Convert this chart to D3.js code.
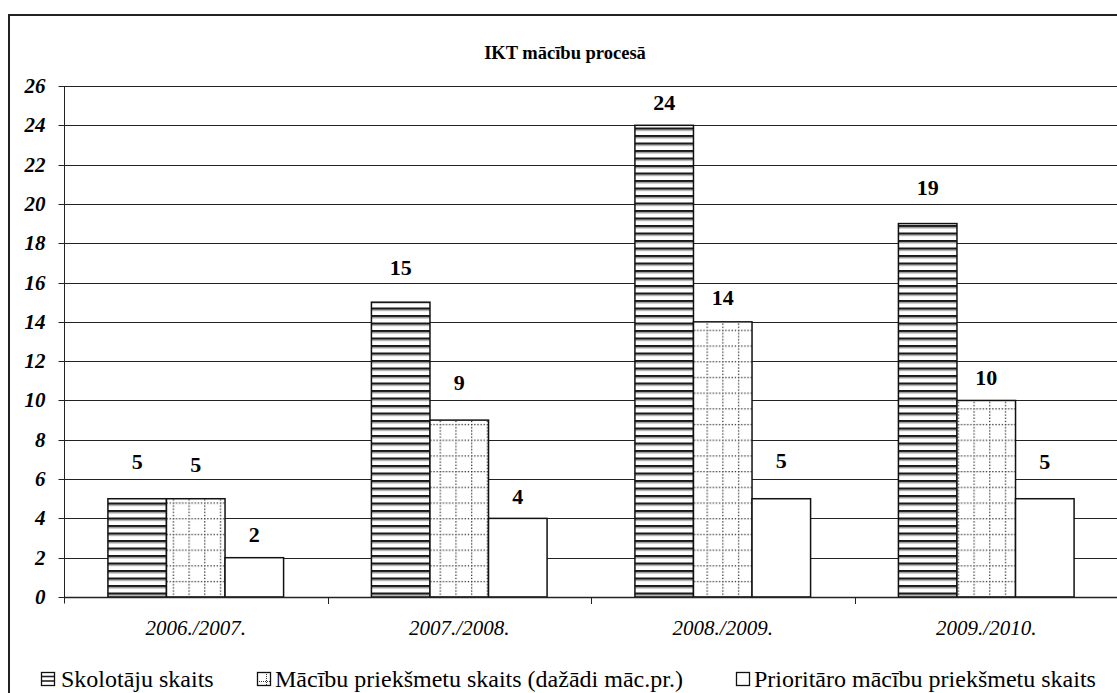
<!DOCTYPE html>
<html><head><meta charset="utf-8">
<script src="https://cdn.jsdelivr.net/npm/d3@7"></script>
<style>body{margin:0;background:#fff}svg{display:block}</style>
</head><body><svg id="c" width="1117" height="693"></svg>
<script>
const title = "IKT mācību procesā";
const categories = ["2006./2007.", "2007./2008.", "2008./2009.", "2009./2010."];
const seriesNames = ["Skolotāju skaits", "Mācību priekšmetu skaits (dažādi māc.pr.)", "Prioritāro mācību priekšmetu skaits"];
const skolotaji = [5, 15, 24, 19];
const macibuPr = [5, 9, 14, 10];
const prioritarie = [2, 4, 5, 5];
const yTicks = [0, 2, 4, 6, 8, 10, 12, 14, 16, 18, 20, 22, 24, 26];

// label lift above bar top (layout only), per series per category
const labelLift = [[30, 27, 15, 29], [27, 30, 17, 15], [16, 14, 31, 30]];

const svg = d3.select("#c");
const defs = svg.append("defs");
// horizontal stripes
const ps = defs.append("pattern").attr("id", "stripes").attr("patternUnits", "userSpaceOnUse")
  .attr("width", 10).attr("height", 7.5);
ps.append("rect").attr("width", 10).attr("height", 7.5).attr("fill", "#fff");
ps.append("rect").attr("y", 0).attr("width", 10).attr("height", 2).attr("fill", "#1a1a1a");
ps.append("rect").attr("y", 2).attr("width", 10).attr("height", 1.3).attr("fill", "#8c8c8c");
// dotted grid (dots every 3px along cell edges)
const cell = 15.7;
const pd = defs.append("pattern").attr("id", "dotgrid").attr("patternUnits", "userSpaceOnUse")
  .attr("width", cell).attr("height", cell);
pd.append("rect").attr("width", cell).attr("height", cell).attr("fill", "#fff");
d3.range(0, 15, 3.14).forEach(p => {
  pd.append("rect").attr("x", p).attr("y", 0).attr("width", 1.3).attr("height", 1.3).attr("fill", "#333");
  pd.append("rect").attr("x", 0).attr("y", p).attr("width", 1.3).attr("height", 1.3).attr("fill", "#333");
});

const fills = ["url(#stripes)", "url(#dotgrid)", "#fff"];
const series = [skolotaji, macibuPr, prioritarie];

// outer border
svg.append("rect").attr("x", 9).attr("y", 15).attr("width", 1130).attr("height", 700)
  .attr("fill", "none").attr("stroke", "#222").attr("stroke-width", 2);

svg.append("text").attr("x", 565).attr("y", 59).attr("text-anchor", "middle")
  .attr("font-weight", "bold").attr("font-size", 18.5).text(title);

const pLeft = 64, pRight = 1118, pTop = 86, pBottom = 597;
const x0 = d3.scaleBand().domain(categories).range([pLeft, pRight]).paddingInner(0).paddingOuter(0);
const x1 = d3.scaleBand().domain(d3.range(3)).range([x0.bandwidth() / 6, x0.bandwidth() * 5 / 6]);
const y = d3.scaleLinear().domain([0, 26]).range([pBottom, pTop]);

// gridlines
svg.append("g").selectAll("line").data(yTicks.filter(d => d > 0)).join("line")
  .attr("x1", pLeft).attr("x2", pRight)
  .attr("y1", d => Math.round(y(d)) + 0.5).attr("y2", d => Math.round(y(d)) + 0.5)
  .attr("stroke", "#222").attr("stroke-width", 1);

// y axis
const ya = d3.axisLeft(y).tickValues(yTicks).tickSize(6).tickPadding(13);
const yg = svg.append("g").attr("transform", `translate(${pLeft + 0.5},0.5)`).call(ya);
yg.attr("font-family", null).attr("font-size", null);
yg.select(".domain").attr("stroke", "#222").attr("d", `M0,${pTop}V${pBottom + 6}`);
yg.selectAll(".tick line").attr("stroke", "#222");
yg.selectAll(".tick text").attr("font-size", 21)
  .attr("font-weight", "bold").attr("font-style", "italic").attr("fill", "#000").attr("dy", "0.33em");
yg.selectAll(".tick").attr("transform", d => `translate(0,${Math.round(y(d))})`);

// bars
categories.forEach((c, ci) => {
  series.forEach((s, si) => {
    const bx = x0(c) + x1(si), bw = x1.bandwidth();
    svg.append("rect").attr("x", bx).attr("y", y(s[ci])).attr("width", bw)
      .attr("height", y(0) - y(s[ci])).attr("fill", fills[si])
      .attr("stroke", "#111").attr("stroke-width", 1.5);
    svg.append("text").attr("x", bx + bw / 2).attr("y", y(s[ci]) - labelLift[si][ci])
      .attr("text-anchor", "middle").attr("font-weight", "bold").attr("font-size", 22).text(s[ci]);
  });
});

// x axis
const xg = svg.append("g");
xg.append("line").attr("x1", pLeft).attr("x2", pRight).attr("y1", pBottom + 0.5).attr("y2", pBottom + 0.5)
  .attr("stroke", "#222").attr("stroke-width", 1.5);
xg.selectAll(".xt").data(categories.slice(1).map(c => x0(c))).join("line")
  .attr("x1", d => Math.round(d) + 0.5).attr("x2", d => Math.round(d) + 0.5)
  .attr("y1", pBottom).attr("y2", pBottom + 7).attr("stroke", "#222");
xg.selectAll("text").data(categories).join("text")
  .attr("x", d => x0(d) + x0.bandwidth() / 2).attr("y", 635).attr("text-anchor", "middle")
  .attr("font-style", "italic").attr("font-size", 21).text(d => d);

// legend
const legX = [41, 257, 736], legTX = [61, 275, 754];
const lg = svg.append("g");
seriesNames.forEach((n, i) => {
  const g = lg.append("g");
  const ix = legX[i], iy = 672;
  g.append("rect").attr("x", ix + 0.5).attr("y", iy + 0.5).attr("width", 13).attr("height", 13)
    .attr("fill", "#fff").attr("stroke", "#111").attr("stroke-width", 1.3);
  if (i === 0) {
    [4.5, 9].forEach(o => g.append("line").attr("x1", ix + 1).attr("x2", ix + 13)
      .attr("y1", iy + o).attr("y2", iy + o).attr("stroke", "#222").attr("stroke-width", 1.6));
  } else if (i === 1) {
    d3.range(2, 13, 2).forEach(p => {
      g.append("rect").attr("x", ix + p).attr("y", iy + 9).attr("width", 1).attr("height", 1).attr("fill", "#333");
      g.append("rect").attr("x", ix + 9).attr("y", iy + p).attr("width", 1).attr("height", 1).attr("fill", "#333");
    });
  }
  g.append("text").attr("x", legTX[i]).attr("y", 687).attr("font-size", 24).text(n);
});

svg.selectAll("text").style("font-family", '"Liberation Serif"');
</script></body></html>
